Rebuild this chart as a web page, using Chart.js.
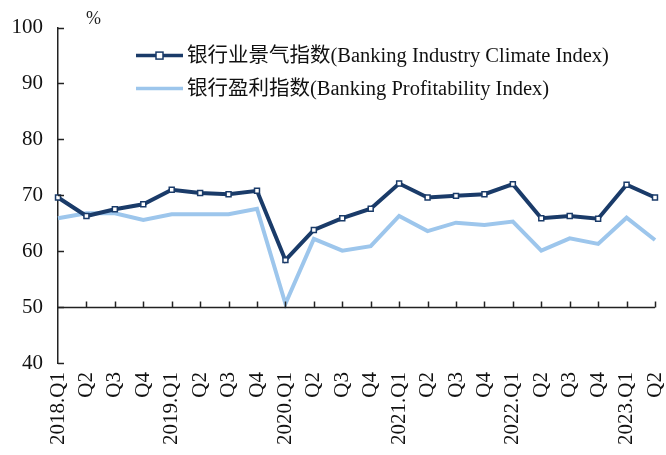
<!DOCTYPE html>
<html>
<head>
<meta charset="utf-8">
<script src="https://cdn.jsdelivr.net/npm/chart.js@4/dist/chart.umd.min.js"></script>
<style>
html,body{margin:0;padding:0;background:#fff;}
#wrap{width:666px;height:455px;}
</style>
</head>
<body>
<div id="wrap"><canvas id="c" width="666" height="455"></canvas></div>
<script>
const categories = ['2018.Q1','Q2','Q3','Q4','2019.Q1','Q2','Q3','Q4','2020.Q1','Q2','Q3','Q4','2021.Q1','Q2','Q3','Q4','2022.Q1','Q2','Q3','Q4','2023.Q1','Q2'];
const climateIndex = [69.6, 66.3, 67.5, 68.4, 71.0, 70.4, 70.2, 70.8, 58.4, 63.8, 65.9, 67.6, 72.1, 69.6, 69.9, 70.2, 72.0, 65.9, 66.3, 65.8, 71.9, 69.6];
const profitIndex = [65.9, 66.8, 66.8, 65.6, 66.6, 66.6, 66.6, 67.6, 50.6, 62.2, 60.1, 60.9, 66.3, 63.6, 65.1, 64.7, 65.3, 60.1, 62.3, 61.3, 66.0, 62.0];
const seriesNames = ['银行业景气指数(Banking Industry Climate Index)', '银行盈利指数(Banking Profitability Index)'];
const yTicks = [40, 50, 60, 70, 80, 90, 100];
const baselineValue = 50;
const unitLabel = '%';

const DARK = '#1a3b69';
const LIGHT = '#9dc6ec';
const AXIS = '#222';
const FONT = "'Liberation Serif', 'Noto Sans CJK SC', serif";

const decorPlugin = {
  id: 'decor',
  afterDraw(chart) {
    const ctx = chart.ctx;
    const x = chart.scales.x, y = chart.scales.y;
    const area = chart.chartArea;
    ctx.save();
    ctx.strokeStyle = AXIS;
    ctx.lineWidth = 1.5;
    yTicks.forEach(v => {
      const py = Math.round(y.getPixelForValue(v)) + 0.5;
      ctx.beginPath();
      ctx.moveTo(area.left, py);
      ctx.lineTo(area.left + 6, py);
      ctx.stroke();
    });
    const by = Math.round(y.getPixelForValue(baselineValue)) + 0.5;
    const x1 = x.getPixelForValue(categories.length - 1);
    ctx.beginPath();
    ctx.moveTo(area.left, by);
    ctx.lineTo(x1, by);
    ctx.stroke();
    for (let i = 1; i < categories.length; i++) {
      const px = Math.round(x.getPixelForValue(i)) + 0.5;
      ctx.beginPath();
      ctx.moveTo(px, by);
      ctx.lineTo(px, by - 6);
      ctx.stroke();
    }
    ctx.fillStyle = '#222';
    ctx.font = "18px " + FONT;
    ctx.textAlign = 'left';
    ctx.textBaseline = 'middle';
    ctx.fillText(unitLabel, area.left + 28, area.top - 8);
    const lx0 = area.left + 78, lx1 = area.left + 125, tx = area.left + 129;
    const rows = [area.top + 28, area.top + 61];
    chart.data.datasets.forEach((ds, i) => {
      const ly = rows[i];
      ctx.strokeStyle = ds.borderColor;
      ctx.lineWidth = 3.5;
      ctx.beginPath();
      ctx.moveTo(lx0, ly);
      ctx.lineTo(lx1, ly);
      ctx.stroke();
      const mx = (lx0 + lx1) / 2;
      if (i === 0) {
        ctx.fillStyle = '#fff';
        ctx.lineWidth = 1.5;
        ctx.fillRect(mx - 3.5, ly - 3.5, 7, 7);
        ctx.strokeRect(mx - 3.5, ly - 3.5, 7, 7);
      }
      ctx.fillStyle = '#111';
      ctx.font = "20.5px " + FONT;
      ctx.textAlign = 'left';
      ctx.textBaseline = 'middle';
      ctx.fillText(ds.label, tx, ly + 1);
    });
    ctx.restore();
  }
};

new Chart(document.getElementById('c'), {
  type: 'line',
  data: {
    labels: categories,
    datasets: [
      {
        label: seriesNames[0],
        data: climateIndex,
        borderColor: DARK,
        backgroundColor: '#fff',
        borderWidth: 4,
        pointStyle: 'rect',
        pointRadius: 3.5,
        pointBorderWidth: 1.5,
        pointBorderColor: DARK,
        pointBackgroundColor: '#fff',
        tension: 0,
        clip: false
      },
      {
        label: seriesNames[1],
        data: profitIndex,
        borderColor: LIGHT,
        backgroundColor: LIGHT,
        borderWidth: 4,
        pointRadius: 0,
        tension: 0,
        clip: false
      }
    ]
  },
  options: {
    responsive: false,
    animation: false,
    layout: { padding: { top: 24, right: 11, left: 0, bottom: 0 } },
    plugins: { legend: { display: false }, tooltip: { enabled: false } },
    scales: {
      x: {
        type: 'category',
        offset: false,
        grid: { display: false, drawTicks: false },
        border: { display: false },
        ticks: {
          autoSkip: false,
          maxRotation: 90,
          minRotation: 90,
          padding: 9,
          color: '#111',
          font: { family: FONT, size: 21 }
        },
        afterFit(s) { s.height = 92; s.paddingLeft = 0; s.paddingRight = 0; }
      },
      y: {
        min: 40,
        max: 100,
        afterBuildTicks(s) { s.ticks = yTicks.map(v => ({ value: v })); },
        grid: { drawOnChartArea: false, drawTicks: false },
        border: { display: true, color: AXIS, width: 1.5 },
        ticks: {
          padding: 15,
          color: '#111',
          font: { family: FONT, size: 21 }
        },
        afterFit(s) { s.width = 58; }
      }
    }
  },
  plugins: [decorPlugin]
});
</script>
</body>
</html>
